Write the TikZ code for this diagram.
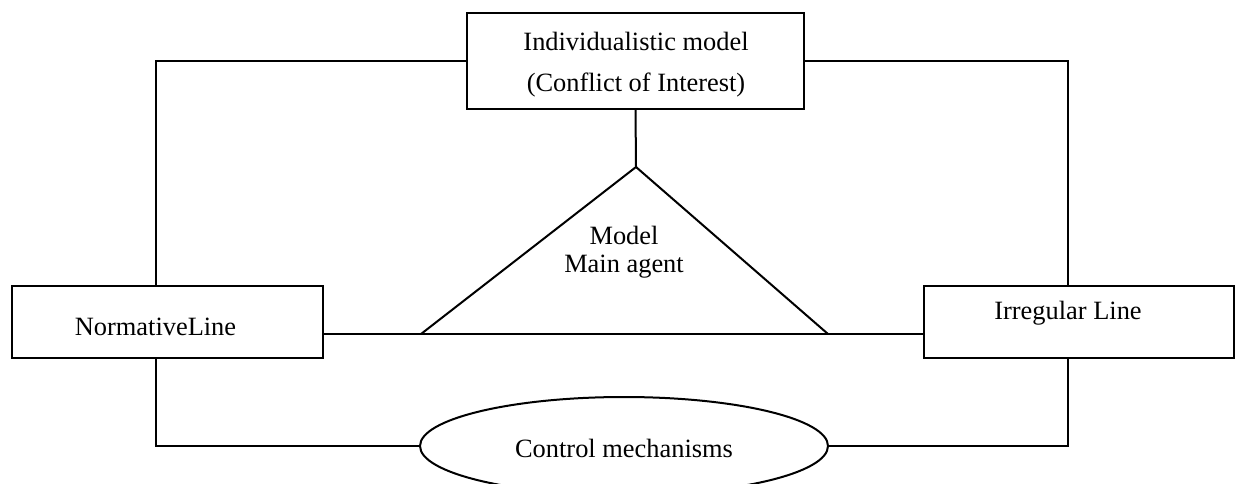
\documentclass[tikz,border=0pt]{standalone}
\usepackage{fontspec}
\setmainfont{Liberation Serif}
\usetikzlibrary{shapes.geometric}
\begin{document}
\begin{tikzpicture}[x=0.5pt,y=-0.5pt,
  conn/.style={draw=black,line width=1pt},
  boxnode/.style={draw=black,line width=1pt,rectangle,inner sep=0pt},
  lbl/.style={inner sep=0pt,font=\fontsize{13.2}{16}\selectfont,align=center}]
\useasboundingbox (0,0) rectangle (1236,483);
% boxes
\node[boxnode,minimum width=168.5pt,minimum height=48pt] (top) at (635.5,61) {};
\node[boxnode,minimum width=155.5pt,minimum height=36pt] (lbox) at (167.5,322) {};
\node[boxnode,minimum width=155pt,minimum height=36pt] (rbox) at (1079,322) {};
\node[draw=black,line width=1pt,ellipse,minimum width=204pt,minimum height=49pt,inner sep=0pt] (ell) at (624,446) {};
% texts
\node[lbl] (t1) at (636,41) {Individualistic model};
\node[lbl] (t2) at (636,85) {(Conflict of Interest)};
\node[lbl] (tl) at (155.5,327) {NormativeLine};
\node[lbl] (tr) at (1068,313) {Irregular Line};
\node[lbl] (te) at (624,448) {Control mechanisms};
\node[lbl] (tm1) at (624,235) {Model};
\node[lbl] (tm2) at (624,267) {Main agent};
% triangle
\coordinate (apex) at (636,167);
\coordinate (bl) at (421,334);
\coordinate (br) at (828,334);
\draw[conn,line join=miter] (bl) -- (apex) -- (br);
% guide coordinates
\coordinate (lx) at (156,0);
\coordinate (rx) at (1068,0);
% connectors
\draw[conn] (top.south) -- (apex);
\draw[conn] (lbox.east |- bl) -- (rbox.west |- bl);
\draw[conn] (top.west) -| (lx |- lbox.north);
\draw[conn] (top.east) -| (rx |- rbox.north);
\draw[conn] (lx |- lbox.south) |- (ell.west);
\draw[conn] (rx |- rbox.south) |- (ell.east);
\end{tikzpicture}
\end{document}
